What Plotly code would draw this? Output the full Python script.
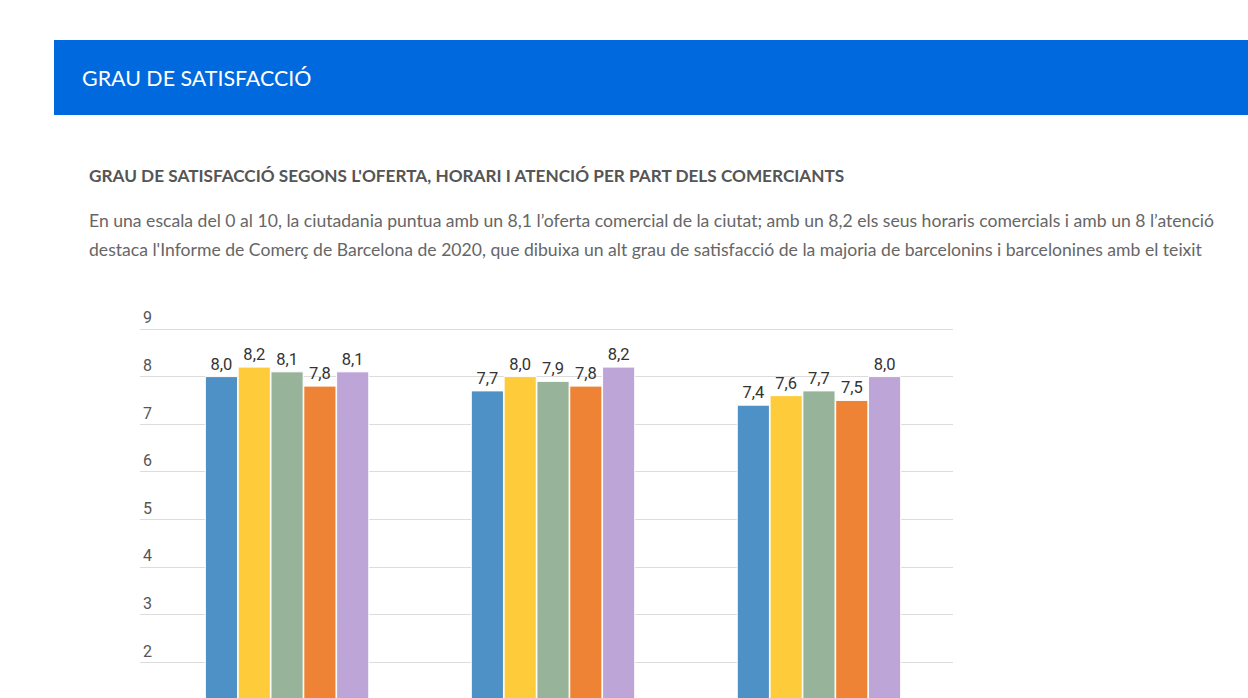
import plotly.graph_objects as go

# ---- data ----
categories = ["Oferta comercial", "Horaris comercials", "Atenció"]
series_names = ["2016", "2017", "2018", "2019", "2020"]
values_2016 = [8.0, 7.7, 7.4]
values_2017 = [8.2, 8.0, 7.6]
values_2018 = [8.1, 7.9, 7.7]
values_2019 = [7.8, 7.8, 7.5]
values_2020 = [8.1, 8.2, 8.0]
series_values = [values_2016, values_2017, values_2018, values_2019, values_2020]
y_ticks = [0, 1, 2, 3, 4, 5, 6, 7, 8, 9]

header_title = "GRAU DE SATISFACCIÓ"
chart_title = "GRAU DE SATISFACCIÓ SEGONS L'OFERTA, HORARI I ATENCIÓ PER PART DELS COMERCIANTS"
body_line1 = ("En una escala del 0 al 10, la ciutadania puntua amb un 8,1 l’oferta comercial de la ciutat; "
              "amb un 8,2 els seus horaris comercials i amb un 8 l’atenció")
body_line2 = ("destaca l'Informe de Comerç de Barcelona de 2020, que dibuixa un alt grau de satisfacció "
              "de la majoria de barcelonins i barcelonines amb el teixit")

colors = ["#4e91c6", "#fecb3a", "#97b49b", "#ee8235", "#bea5d8"]

W, H = 1248, 698

def px_x(p):
    return p / W

def px_y(p):
    return 1 - p / H

fig = go.Figure()
for name, vals, col in zip(series_names, series_values, colors):
    fig.add_trace(go.Bar(
        name=name,
        x=categories,
        y=vals,
        marker=dict(color=col, line=dict(color="white", width=1)),
        texttemplate="%{y:.1f}",
        textposition="outside",
        textfont=dict(family="Roboto", size=16.5, color="#333333"),
        cliponaxis=False,
        hoverinfo="skip",
    ))

# Header band
fig.add_shape(type="rect", xref="paper", yref="paper",
              x0=px_x(54), x1=1.0, y0=px_y(115), y1=px_y(40),
              fillcolor="#0069de", line=dict(width=0), layer="below")

fig.add_annotation(text=header_title, xref="paper", yref="paper",
                   x=px_x(80), y=px_y(78), xanchor="left", yanchor="middle",
                   showarrow=False, font=dict(family="Lato", size=21.4, color="white"))
fig.add_annotation(text="<b>" + chart_title + "</b>", xref="paper", yref="paper",
                   x=px_x(87), y=px_y(176), xanchor="left", yanchor="middle",
                   showarrow=False, font=dict(family="Lato", size=17.2, color="#555555"))
fig.add_annotation(text=body_line1, xref="paper", yref="paper",
                   x=px_x(87), y=px_y(221), xanchor="left", yanchor="middle",
                   showarrow=False, font=dict(family="Lato", size=17.6, color="#666666"))
fig.add_annotation(text=body_line2, xref="paper", yref="paper",
                   x=px_x(87), y=px_y(249), xanchor="left", yanchor="middle",
                   showarrow=False, font=dict(family="Lato", size=17.6, color="#666666"))

# plot area: x 140..953, y 329 (value 9) .. 698 (bottom of view)
unit = 47.6
y_top_val = 9.45
top_px = 329 - (y_top_val - 9) * unit
y_bottom_val = 9 - (698 - 329) / unit

fig.update_layout(
    width=W, height=H,
    margin=dict(l=0, r=0, t=0, b=0),
    paper_bgcolor="white", plot_bgcolor="white",
    separators=", ",
    barmode="group",
    bargap=0.383,
    bargroupgap=0.02,
    showlegend=False,
    xaxis=dict(domain=[px_x(140), px_x(953)], range=[-0.553, 2.504],
               showgrid=False, showline=False, zeroline=False,
               showticklabels=False, fixedrange=True),
    yaxis=dict(domain=[0, px_y(top_px)], range=[y_bottom_val, y_top_val],
               tickvals=y_ticks, showgrid=True, gridcolor="#dcdcdc", gridwidth=1,
               zeroline=False, showline=False,
               ticklabelposition="inside top",
               tickfont=dict(family="Roboto", size=16, color="#555555"),
               fixedrange=True),
)

fig.write_html("out.html", config={"displayModeBar": False},
               post_script="document.body.style.margin='0';")
